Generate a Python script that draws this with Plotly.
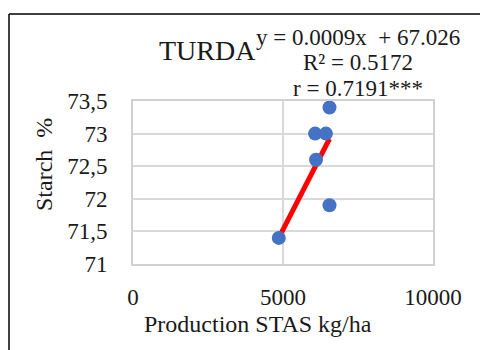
import plotly.graph_objects as go

production = [6550, 6070, 6430, 6100, 6550, 4860]
starch = [73.4, 73.0, 73.0, 72.6, 71.9, 71.4]
slope = 0.0009
intercept = 67.026
eq_lines = ["y = 0.0009x  + 67.026", "R² = 0.5172", "r = 0.7191***"]
y_ticks = [71, 71.5, 72, 72.5, 73, 73.5]
y_tick_text = ["71", "71,5", "72", "72,5", "73", "73,5"]
x_ticks = [0, 5000, 10000]
x_tick_text = ["0", "5000", "10000"]

FONT = "Liberation Serif, Times New Roman, serif"

trend_x = [min(production), max(production)]
trend_y = [slope * v + intercept for v in trend_x]

fig = go.Figure()
fig.add_trace(go.Scatter(x=trend_x, y=trend_y, mode="lines",
                         line=dict(color="#FF0000", width=5), showlegend=False))
fig.add_trace(go.Scatter(x=production, y=starch, mode="markers",
                         marker=dict(color="#4472C4", size=14), showlegend=False))

L, R, T, B = 133, 47, 101, 86
W, H = 480, 350
pw, ph = W - L - R, H - T - B

def px(x):
    return (x - L) / pw

def py(y):
    return (H - B - y) / ph

fig.update_layout(
    width=W, height=H,
    margin=dict(l=L, r=R, t=T, b=B),
    paper_bgcolor="white", plot_bgcolor="white",
    font=dict(family=FONT, size=23, color="#1a1a1a"),
    xaxis=dict(range=[0, 10000], tickvals=x_ticks, ticktext=x_tick_text,
               showgrid=True, gridcolor="#d9d9d9", gridwidth=1.5, zeroline=False,
               showline=True, linecolor="#d0d0d0", linewidth=2, mirror=True,
               ticks="", ticklabelstandoff=11, tickfont=dict(size=23)),
    yaxis=dict(range=[71, 73.5], tickvals=y_ticks, ticktext=y_tick_text,
               showgrid=True, gridcolor="#d9d9d9", gridwidth=1.5, zeroline=False,
               showline=True, linecolor="#d0d0d0", linewidth=2, mirror=True,
               ticks="", ticklabelstandoff=19, tickfont=dict(size=23)),
    shapes=[
        dict(type="line", xref="paper", yref="paper",
             x0=px(9), x1=px(9), y0=py(H + 5), y1=py(14),
             line=dict(color="black", width=1.5)),
        dict(type="line", xref="paper", yref="paper",
             x0=px(9), x1=px(W + 5), y0=py(14), y1=py(14),
             line=dict(color="black", width=1.5)),
    ],
    annotations=[
        dict(text="TURDA", xref="paper", yref="paper", x=px(207), y=py(50),
             showarrow=False, font=dict(size=28, family=FONT),
             xanchor="center", yanchor="middle"),
        dict(text="Production STAS kg/ha", xref="paper", yref="paper",
             x=px(258), y=py(324), showarrow=False,
             font=dict(size=24, family=FONT),
             xanchor="center", yanchor="middle"),
        dict(text="Starch  %", xref="paper", yref="paper",
             x=px(44), y=py(165), showarrow=False, textangle=-90,
             font=dict(size=24, family=FONT),
             xanchor="center", yanchor="middle"),
    ] + [
        dict(text=t, xref="paper", yref="paper", x=px(358), y=py(37 + 25.5 * i),
             showarrow=False, font=dict(size=23, family=FONT),
             xanchor="center", yanchor="middle")
        for i, t in enumerate(eq_lines)
    ],
)

fig.write_html("out.html")
